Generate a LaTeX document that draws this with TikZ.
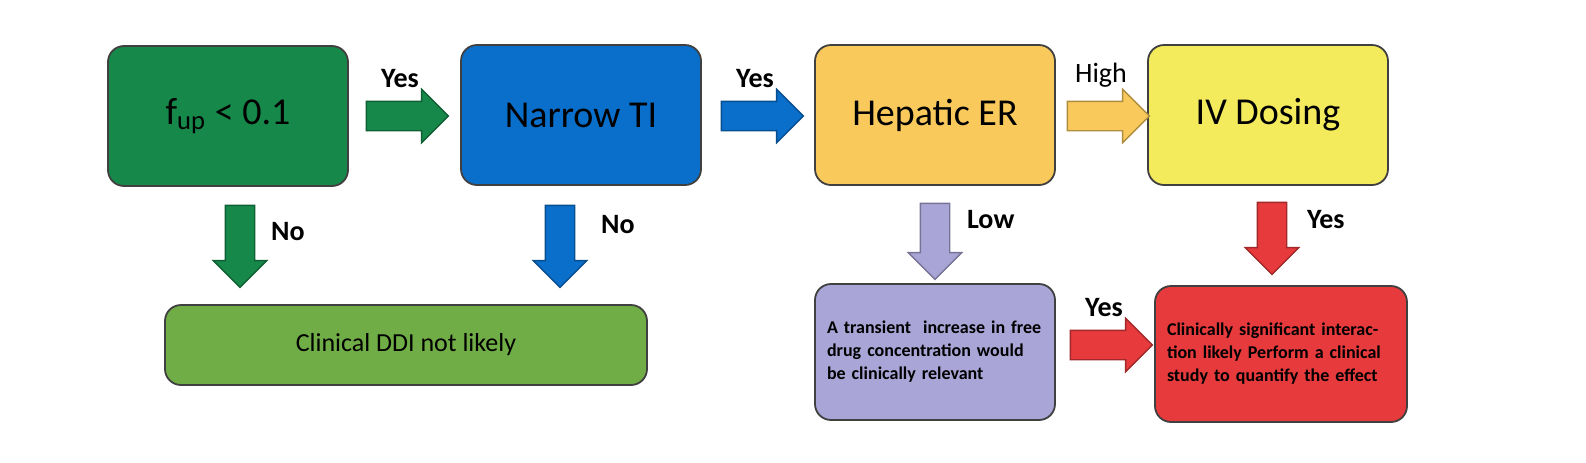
\documentclass[tikz,border=0pt]{standalone}
\usepackage{fontspec}
\setmainfont{Carlito}
\usetikzlibrary{shapes.arrows}
\definecolor{dkgreen}{HTML}{16884A}
\definecolor{ltgreen}{HTML}{70AD47}
\definecolor{tiblue}{HTML}{0A6FCB}
\definecolor{erorange}{HTML}{F9C95C}
\definecolor{ivyellow}{HTML}{F3EA5C}
\definecolor{lavender}{HTML}{A9A5D6}
\definecolor{sigred}{HTML}{E63A3D}
\begin{document}
\begin{tikzpicture}[
        x=0.5pt,
        y=-0.5pt,
        box/.style={draw=black!75, line width=0.9pt, rounded corners=8pt, inner sep=3pt, align=left},
        bigbox/.style={box, minimum width=120pt, minimum height=70pt, font=\fontsize{19}{22}\selectfont},
        smallbox/.style={box, minimum width=120pt, minimum height=68pt, text width=108pt, font=\bfseries\fontsize{9}{11.5}\selectfont},
        blockarrow/.style={single arrow, draw=#1!70!black, fill=#1, line width=0.7pt, inner sep=7pt,
            single arrow head extend=6pt, minimum height=41pt, single arrow tip angle=90},
        downarrow/.style={blockarrow=#1, shape border rotate=270},
        lbl/.style={font=\bfseries\fontsize{14}{16}\selectfont}
    ]
    \useasboundingbox (0,0) rectangle (1586,462);

    % top row
    \node[bigbox, fill=dkgreen] (fup) at (228,116) {f\textsubscript{up} < 0.1};
    \node[bigbox, fill=tiblue] (ti) at (581,115) {Narrow TI};
    \node[bigbox, fill=erorange] (er) at (935,115) {Hepatic ER};
    \node[bigbox, fill=ivyellow] (iv) at (1268,115) {IV Dosing};

    % bottom row
    \node[box, fill=ltgreen, minimum width=241pt, minimum height=40pt, align=center,
        font=\fontsize{13}{15}\selectfont] (ddi) at (406,345) {Clinical DDI not likely};
    \node[smallbox, fill=lavender] (trans) at (935,352)
        {A transient \ increase in free drug concentration would be clinically relevant};
    \node[smallbox, fill=sigred, minimum width=126pt, text width=114pt] (sig) at (1281,354)
        {Clinically significant interaction likely Perform a clinical study to quantify the effect};

    % horizontal arrows
    \node[blockarrow=dkgreen] (a1) at (400,116) {};
    \node[blockarrow=tiblue] (a2) at (755,116) {};
    \node[blockarrow=erorange] (a3) at (1101,116) {};
    \node[blockarrow=sigred] (a4) at (1104,345) {};
    \node[lbl] at (a1.north) [above=3pt] {Yes};
    \node[lbl] at (a2.north) [above=3pt] {Yes};
    \node[lbl, font=\fontsize{14}{16}\selectfont] at (a3.north) [above=3pt] {High};
    \node[lbl] at (a4.north) [above=3pt] {Yes};

    % vertical arrows
    \node[downarrow=dkgreen] (d1) at (240,239) {};
    \node[downarrow=tiblue] (d2) at (560,239) {};
    \node[downarrow=lavender, minimum height=38pt] (d3) at (935,234) {};
    \node[downarrow=sigred, minimum height=36pt] (d4) at (1272,231) {};
    \node[lbl, anchor=west] at (264,232) {No};
    \node[lbl, anchor=west] at (594,225) {No};
    \node[lbl, anchor=west] at (960,220) {Low};
    \node[lbl, anchor=west] at (1300,220) {Yes};
\end{tikzpicture}
\end{document}
